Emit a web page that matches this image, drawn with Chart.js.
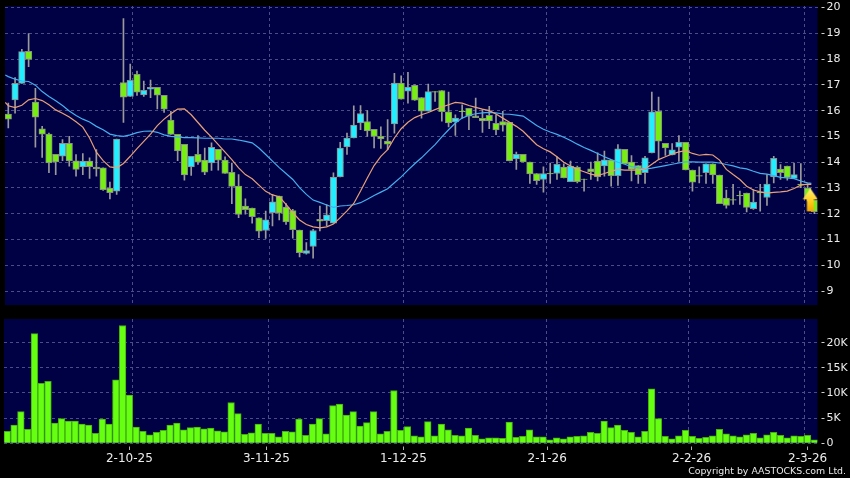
<!DOCTYPE html>
<html>
<head>
<meta charset="utf-8">
<title>AASTOCKS chart</title>
<script src="https://cdn.jsdelivr.net/npm/chart.js@4"></script>
<style>
    html, body { margin: 0; padding: 0; background: #000; overflow: hidden; }
    #wrap { position: relative; width: 850px; height: 478px; }
    canvas { position: absolute; left: 0; }
    #priceChart { top: 0; }
    #volChart { top: 310px; }
    #copy { position: absolute; right: 4px; top: 465px; color: #e8e8e8; font: 9.4px "DejaVu Sans", sans-serif; }
</style>
</head>
<body>
<div id="wrap">
    <canvas id="priceChart" width="850" height="310"></canvas>
    <canvas id="volChart" width="850" height="168"></canvas>
    <div id="copy">Copyright by AASTOCKS.com Ltd.</div>
</div>
<script>
// daily candles
var openPrices = [15.87,16.42,17.06,18.30,16.33,15.29,15.09,14.31,14.23,14.73,
    14.05,13.82,14.04,13.81,13.78,13.00,12.88,17.09,16.55,17.41,
    16.61,16.83,16.90,16.59,15.63,15.08,14.69,13.82,14.31,14.08,
    13.97,14.50,14.08,13.61,13.07,12.30,12.22,11.84,11.35,12.04,
    12.69,12.26,12.12,11.37,10.46,10.73,11.78,11.73,11.63,13.43,
    14.59,14.94,15.52,15.58,15.28,15.00,14.82,15.49,17.07,16.76,
    16.98,16.51,15.98,16.74,16.78,15.95,15.56,15.98,16.09,15.80,
    15.70,15.82,15.51,15.58,15.55,14.13,14.31,14.00,13.56,13.33,
    13.57,13.56,13.81,13.24,13.81,13.35,13.74,14.04,13.86,14.08,
    13.48,14.50,14.00,13.87,13.59,14.36,15.97,14.73,14.28,14.58,
    14.77,13.69,13.48,13.59,13.94,13.50,12.61,12.55,12.71,12.80,
    12.20,12.85,12.63,13.43,13.73,13.85,13.37,13.15,13.00,12.53];
var closePrices = [15.67,17.06,18.29,17.99,15.75,15.09,13.97,14.01,14.73,14.05,
    13.72,14.04,13.83,13.74,12.93,12.82,14.90,16.52,17.18,16.72,
    16.79,16.90,16.60,16.06,15.08,14.44,13.51,14.23,14.00,13.61,
    14.58,14.08,13.56,13.06,11.97,12.16,11.89,11.32,11.76,12.46,
    12.02,11.68,11.38,10.49,10.57,11.35,11.71,11.96,13.42,14.55,
    14.94,15.44,15.89,15.21,15.00,14.90,14.70,17.07,16.45,16.91,
    16.41,15.98,16.74,16.72,15.96,15.52,15.71,15.96,15.79,15.73,
    15.60,15.60,15.25,15.44,14.05,14.31,14.01,13.55,13.28,13.56,
    13.55,13.92,13.39,13.85,13.24,13.33,13.63,13.43,14.09,13.48,
    14.52,13.94,13.72,13.52,14.17,15.95,14.82,14.55,14.48,14.77,
    13.70,13.23,13.46,13.94,13.51,12.39,12.32,12.53,12.69,12.25,
    12.45,12.81,13.15,14.15,13.59,13.41,13.52,13.13,12.62,12.08];
var highPrices = [16.29,17.28,18.38,18.99,16.87,15.39,15.13,14.31,14.88,15.00,
    14.30,14.33,14.17,14.49,13.78,13.23,14.90,19.57,17.81,17.54,
    17.15,17.19,16.90,16.59,15.97,15.08,14.69,14.23,15.03,14.55,
    14.75,14.50,14.21,13.97,13.52,12.58,12.22,11.84,12.10,12.75,
    12.69,12.39,12.17,11.37,10.88,11.40,12.30,12.36,13.59,14.77,
    15.13,16.19,16.20,16.00,15.28,15.37,15.65,17.45,17.35,17.49,
    17.00,16.51,17.03,16.74,16.78,16.72,15.84,16.23,16.09,16.49,
    16.04,16.17,15.84,15.97,15.55,14.39,14.31,14.00,13.56,13.82,
    13.97,14.21,13.94,14.04,13.85,13.35,14.00,14.36,14.43,14.08,
    14.68,14.50,14.26,13.87,14.23,16.72,16.53,14.73,14.72,15.03,
    14.77,13.69,13.82,13.94,13.94,13.50,12.92,13.14,12.88,12.80,
    12.94,13.14,13.52,14.23,13.91,13.85,13.97,13.95,13.15,12.53];
var lowPrices = [15.33,15.90,17.06,17.71,14.58,14.19,13.59,13.52,14.06,13.85,
    13.46,13.52,13.37,13.46,12.91,12.58,12.75,15.54,16.55,16.59,
    16.55,16.50,16.07,15.93,15.08,14.06,13.30,13.49,13.91,13.52,
    13.68,13.69,13.56,12.39,11.85,11.98,11.63,11.07,11.04,11.53,
    11.76,11.59,11.05,10.33,10.43,10.28,11.33,11.53,11.63,13.43,
    14.30,14.94,15.26,15.00,14.55,14.53,14.49,15.13,16.45,16.29,
    16.40,15.71,15.98,16.36,15.59,15.37,15.04,15.71,15.26,15.73,
    15.16,15.30,15.07,15.20,14.05,13.72,14.01,13.18,13.14,12.84,
    13.18,13.33,13.39,13.24,13.20,12.88,13.33,13.27,13.46,13.07,
    13.10,13.94,13.27,13.18,13.18,14.36,14.10,14.26,14.28,14.03,
    13.70,12.88,13.20,13.18,13.18,12.39,12.22,12.36,12.36,12.07,
    12.17,12.10,12.32,13.20,13.33,13.30,13.37,13.01,12.50,12.00];

// moving averages: one reading per bar, plus where each line starts and ends
var maFast = [16.32,
    16.19,16.12,16.21,16.42,16.47,16.39,16.23,16.03,15.90,15.75,
    15.57,15.36,14.94,14.39,14.06,13.82,13.78,13.95,14.23,14.53,
    14.81,15.09,15.42,15.67,15.88,16.06,16.07,15.84,15.54,15.24,
    14.97,14.68,14.39,14.10,13.78,13.52,13.36,13.11,12.87,12.73,
    12.66,12.36,12.04,11.76,11.58,11.49,11.45,11.49,11.60,11.85,
    12.11,12.40,12.88,13.39,13.87,14.23,14.49,14.94,15.30,15.55,
    15.73,15.84,15.93,16.04,16.14,16.23,16.32,16.29,16.20,16.13,
    16.06,16.00,15.87,15.71,15.55,15.39,15.20,14.94,14.68,14.52,
    14.40,14.21,14.00,13.85,13.72,13.63,13.54,13.48,13.56,13.65,
    13.72,13.69,13.69,13.69,13.74,13.92,14.10,14.21,14.32,14.40,
    14.45,14.34,14.27,14.30,14.28,14.08,13.72,13.52,13.33,13.07,
    12.92,12.85,12.80,12.83,12.85,12.88,12.98,13.11,13.15,13.14];
var maSlow = [17.38,
    17.32,17.22,17.15,17.13,16.99,16.74,16.55,16.38,16.20,15.99,
    15.81,15.67,15.56,15.39,15.26,15.09,15.03,15.00,15.06,15.15,
    15.20,15.21,15.16,15.06,15.00,14.98,14.95,14.95,14.94,14.93,
    14.93,14.93,14.90,14.90,14.86,14.81,14.75,14.55,14.30,14.04,
    13.79,13.56,13.33,13.01,12.75,12.53,12.44,12.34,12.25,12.30,
    12.32,12.35,12.43,12.56,12.71,12.84,12.97,13.20,13.43,13.69,
    13.94,14.17,14.43,14.68,14.98,15.26,15.52,15.71,15.82,15.88,
    15.91,15.93,15.91,15.87,15.86,15.83,15.79,15.61,15.42,15.28,
    15.17,15.08,14.97,14.84,14.70,14.57,14.46,14.34,14.21,14.10,
    14.00,13.92,13.83,13.78,13.73,13.77,13.82,13.87,13.92,13.97,
    14.01,14.01,14.00,14.00,14.00,13.97,13.91,13.86,13.78,13.74,
    13.65,13.57,13.54,13.48,13.41,13.39,13.36,13.27,13.20,13.18];

var volumes = [2.4,3.6,6.3,2.8,21.8,11.9,12.3,4.0,4.9,4.4,
    4.4,3.8,3.6,2.0,4.8,3.8,12.6,23.4,9.6,3.2,
    2.4,1.7,2.2,2.6,3.6,4.0,2.7,3.1,3.2,2.9,
    3.0,2.5,2.3,8.1,5.9,1.8,2.1,3.8,2.0,2.0,
    1.3,2.4,2.3,4.8,1.6,3.8,4.9,1.9,7.5,7.8,
    5.6,6.3,3.4,4.1,6.3,1.9,2.4,10.5,2.6,3.3,
    1.5,1.3,4.3,1.5,3.8,2.7,1.6,1.5,3.0,1.6,
    0.9,1.1,1.1,1.0,4.2,1.2,1.4,2.7,1.3,1.3,
    0.7,1.1,0.9,1.3,1.4,1.5,2.2,2.0,4.4,3.1,
    3.6,2.6,2.2,1.3,2.4,10.8,4.9,1.4,0.9,1.5,
    2.6,1.4,1.0,1.2,1.5,2.8,1.9,1.5,1.3,1.7,
    2.0,1.1,1.7,2.2,1.6,1.1,1.5,1.4,1.6,0.7];

var dateLabels = ['2-10-25', '3-11-25', '1-12-25', '2-1-26', '2-2-26', '2-3-26'];
var dateTickBars = [18, 38.2, 58.4, 79.6, 100.9, 118];
var dateGridBars = [18.4, 38.5, 58.4, 79.5, 100.5, 117.5];
var priceTicks = [9, 10, 11, 12, 13, 14, 15, 16, 17, 18, 19, 20];
var volumeTicks = [0, 5, 10, 15, 20];
var arrowBar = 118.4;
var arrowPrice = 12.52;

var GRID = '#4c4c86';
var TEXT = '#ececec';
var FONT = { family: '"DejaVu Sans", sans-serif', size: 11 };
var DATE_FONT = { family: '"DejaVu Sans", sans-serif', size: 12 };
var NAVY = '#000044';
var BAR_MIN = -0.487, BAR_MAX = 119.46;

function pairs(values) {
    return values.map(function(v, i) { return { x: i, y: v }; });
}

function maPoints(values) {
    // first and last readings sit half a bar past the candles
    return values.map(function(v, i) {
        var x = i - 1;
        if (i === 0) x = -0.45;
        if (i === values.length - 1) x = 118.55;
        return { x: x, y: v };
    });
}

// label overhang would otherwise shrink the plot area
function noPadding(scale) {
    scale.paddingTop = 0;
    scale.paddingBottom = 0;
    scale.paddingLeft = 0;
    scale.paddingRight = 0;
}

function fixedHeight(h) {
    return function(scale) {
        scale.height = h;
        noPadding(scale);
    };
}

function setTicks(values) {
    return function(scale) {
        scale.ticks = values.map(function(v) { return { value: v }; });
    };
}

// navy plot background
var plotBg = {
    id: 'plotBg',
    beforeDraw: function(chart) {
        var a = chart.chartArea;
        chart.ctx.save();
        chart.ctx.fillStyle = NAVY;
        chart.ctx.fillRect(a.left, a.top, a.width, a.height);
        chart.ctx.restore();
    }
};

function makeArrow() {
    var c = document.createElement('canvas');
    c.width = 16;
    c.height = 24;
    var g = c.getContext('2d');
    var fill = g.createLinearGradient(0, 0, 0, 24);
    fill.addColorStop(0, '#fff27a');
    fill.addColorStop(0.5, '#ffd020');
    fill.addColorStop(1, '#f0a000');
    g.fillStyle = fill;
    g.beginPath();
    g.moveTo(8, 0);
    g.lineTo(15.5, 11);
    g.lineTo(11.5, 11);
    g.lineTo(11.5, 23);
    g.lineTo(4.5, 23);
    g.lineTo(4.5, 11);
    g.lineTo(0.5, 11);
    g.closePath();
    g.fill();
    return c;
}

function sharedX(showLabels) {
    return {
        // tick marks and date labels
        x: {
            type: 'linear',
            position: 'bottom',
            offset: false,
            min: BAR_MIN,
            max: BAR_MAX,
            afterBuildTicks: setTicks(dateTickBars),
            afterFit: fixedHeight(showLabels ? 34.7 : 0),
            border: { display: false },
            grid: {
                offset: false,
                drawOnChartArea: false,
                drawTicks: showLabels,
                tickLength: 7,
                tickColor: '#b0b0b0',
                tickBorderDash: [0, 3.5, 3.5, 50]
            },
            ticks: {
                display: showLabels,
                color: TEXT,
                font: DATE_FONT,
                maxRotation: 0,
                autoSkip: false,
                padding: 1,
                callback: function(v) { return dateLabels[dateTickBars.indexOf(v)]; }
            }
        },
        // dashed vertical grid, which sits a little off the date ticks
        xGrid: {
            type: 'linear',
            position: 'bottom',
            offset: false,
            min: BAR_MIN,
            max: BAR_MAX,
            afterBuildTicks: setTicks(dateGridBars),
            afterFit: fixedHeight(0),
            border: { display: false, dash: [3, 3] },
            grid: { offset: false, color: GRID, drawTicks: false },
            ticks: { display: false }
        }
    };
}

function yAxis(tickValues, min, max, format) {
    return {
        type: 'linear',
        position: 'right',
        min: min,
        max: max,
        afterBuildTicks: setTicks(tickValues),
        afterFit: function(scale) {
            scale.width = 32.5;
            noPadding(scale);
        },
        border: { display: false, dash: [3, 3] },
        grid: {
            color: GRID,
            tickLength: 7,
            tickColor: '#d0d0d0',
            tickBorderDash: [0, 3.5, 3.5, 50]
        },
        ticks: { color: TEXT, font: FONT, padding: 2, callback: format }
    };
}

var barColors = openPrices.map(function(o, i) {
    return closePrices[i] > o ? '#22eeff' : '#77ee11';
});

var priceScales = sharedX(false);
priceScales.y = yAxis(priceTicks, 8.46, 20.06, function(v) { return v; });

new Chart(document.getElementById('priceChart').getContext('2d'), {
    type: 'bar',
    data: {
        datasets: [
            {
                type: 'scatter',
                label: 'Signal',
                data: [{ x: arrowBar, y: arrowPrice }],
                pointStyle: makeArrow(),
                order: 0
            },
            {
                type: 'line',
                label: 'MA fast',
                data: maPoints(maFast),
                borderColor: '#e8a078',
                borderWidth: 1.2,
                pointRadius: 0,
                order: 1
            },
            {
                type: 'line',
                label: 'MA slow',
                data: maPoints(maSlow),
                borderColor: '#44b0f0',
                borderWidth: 1.2,
                pointRadius: 0,
                order: 2
            },
            {
                label: 'Body',
                data: openPrices.map(function(o, i) { return { x: i, y: [o, closePrices[i]] }; }),
                backgroundColor: barColors,
                borderColor: '#8c8c8c',
                borderWidth: 1,
                borderSkipped: false,
                barThickness: 6.5,
                grouped: false,
                order: 3
            },
            {
                label: 'Wick',
                data: highPrices.map(function(h, i) { return { x: i, y: [lowPrices[i], h] }; }),
                backgroundColor: '#9a9a9a',
                borderWidth: 0,
                barThickness: 1,
                grouped: false,
                order: 4
            }
        ]
    },
    options: {
        responsive: false,
        animation: false,
        layout: { padding: { left: 4, top: 6, right: 0, bottom: 4 } },
        plugins: { legend: { display: false }, tooltip: { enabled: false } },
        scales: priceScales
    },
    plugins: [plotBg]
});

var volumeScales = sharedX(true);
volumeScales.y = yAxis(volumeTicks, 0, 24.7, function(v) { return v === 0 ? '0' : v + 'K'; });

new Chart(document.getElementById('volChart').getContext('2d'), {
    type: 'bar',
    data: {
        datasets: [{
            label: 'Volume',
            data: pairs(volumes),
            backgroundColor: '#66ff11',
            borderColor: '#44b010',
            borderWidth: 1,
            barThickness: 6.6,
            grouped: false
        }]
    },
    options: {
        responsive: false,
        animation: false,
        layout: { padding: { left: 4, top: 9, right: 0, bottom: 0 } },
        plugins: { legend: { display: false }, tooltip: { enabled: false } },
        scales: volumeScales
    },
    plugins: [plotBg]
});
</script>
</body>
</html>
